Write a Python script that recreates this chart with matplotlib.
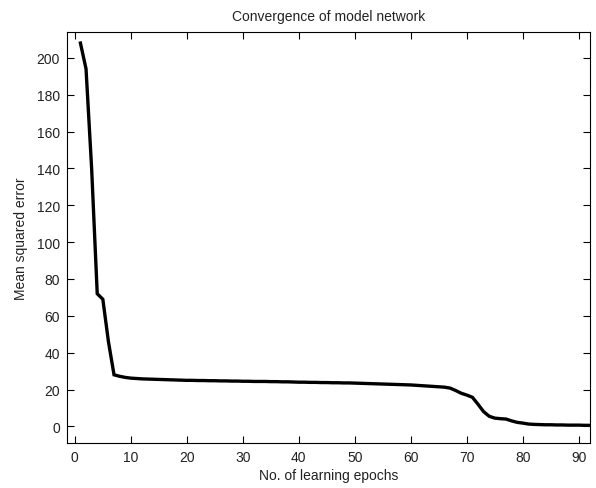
import numpy as np
import matplotlib.pyplot as plt

# Training error per epoch
epochs = list(range(1, 93))
mse = [
    208.0, 194.0, 140.0, 72.0, 69.0, 46.0, 28.0, 27.2, 26.6, 26.2,
    26.0, 25.8, 25.7, 25.6, 25.5, 25.4, 25.3, 25.2, 25.1, 25.0,
    25.0, 24.9, 24.9, 24.8, 24.8, 24.7, 24.7, 24.6, 24.6, 24.5,
    24.5, 24.4, 24.4, 24.4, 24.3, 24.3, 24.2, 24.2, 24.1, 24.0,
    24.0, 23.9, 23.9, 23.8, 23.8, 23.7, 23.7, 23.6, 23.6, 23.5,
    23.4, 23.3, 23.2, 23.1, 23.0, 22.9, 22.8, 22.7, 22.6, 22.5,
    22.3, 22.1, 21.9, 21.7, 21.5, 21.3, 20.8, 19.5, 18.0, 17.0,
    15.8, 12.0, 8.0, 5.5, 4.5, 4.2, 4.0, 3.0, 2.2, 1.8,
    1.3, 1.1, 1.0, 0.9, 0.9, 0.8, 0.8, 0.7, 0.7, 0.7,
    0.6, 0.6,
]

x_ticks = list(range(0, 100, 10))
y_ticks = list(range(0, 220, 20))

plt.rcParams['font.family'] = ['Liberation Sans', 'DejaVu Sans']
text_color = '#222222'

fig = plt.figure(figsize=(5.96, 4.89), dpi=100)
ax = fig.add_axes([0.1124, 0.092, 0.8776, 0.8405])

ax.plot(epochs, mse, color='black', linewidth=2.4, solid_joinstyle='miter')

ax.set_xlim(-1.4, 92)
ax.set_ylim(-9, 214)
ax.set_xticks(x_ticks)
ax.set_yticks(y_ticks)
ax.tick_params(direction='in', length=5, width=0.8, top=True, right=True,
               labelsize=10, labelcolor=text_color, pad=5)
for spine in ax.spines.values():
    spine.set_linewidth(0.8)

ax.set_title('Convergence of model network', fontsize=10, color=text_color, pad=9)
ax.set_xlabel('No. of learning epochs', fontsize=10, color=text_color, labelpad=3)
ax.set_ylabel('Mean squared error', fontsize=10, color=text_color, labelpad=6)

fig.savefig('out.png', dpi=100)
